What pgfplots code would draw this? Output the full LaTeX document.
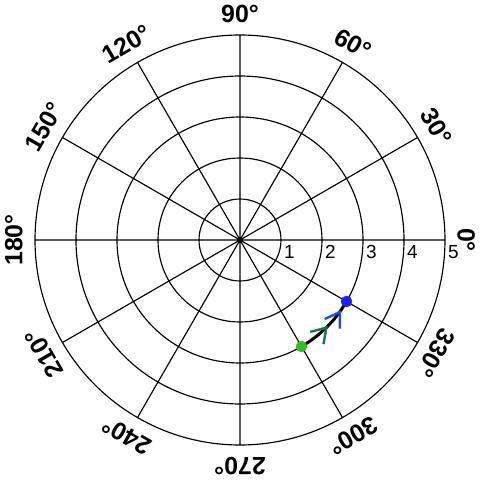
\documentclass[border=0pt]{standalone}
\usepackage{pgfplots}
\pgfplotsset{compat=1.18}
\usepgfplotslibrary{polar}
\usetikzlibrary{decorations.markings,arrows.meta}
\usepackage{fontspec}
\setmainfont{Liberation Sans}

\definecolor{ptgreen}{RGB}{50,190,40}
\definecolor{ptblue}{RGB}{30,30,250}
\definecolor{arrgreen}{RGB}{25,120,75}
\definecolor{arrblue}{RGB}{30,80,215}

\begin{document}
\begin{tikzpicture}
\begin{polaraxis}[
    width=410bp, height=410bp, scale only axis,
    ymin=0, ymax=5,
    xtick={0,30,...,330},
    ytick={1,2,3,4,5},
    xticklabels={}, yticklabels={},
    grid=major,
    major grid style={black, line width=1.15bp},
    axis line style={draw=none},
    tick style={draw=none},
    clip=false,
]
\coordinate (O) at (axis cs:0,0);
% path from the green point to the blue one
\addplot[black, line width=3bp, no markers,
    postaction={decorate},
    decoration={markings,
      mark=at position 0.52 with {\arrow{Straight Barb[length=14bp,width=18bp,line width=2.4bp,color=arrgreen]}},
      mark=at position 0.84 with {\arrow{Straight Barb[length=14bp,width=18bp,line width=2.4bp,color=arrblue]}}}]
  coordinates {(300,3) (305,3) (310,3) (315,3) (320,3) (325,3) (330,3)};
\addplot[only marks, mark=*, mark size=5.5bp, color=ptgreen] coordinates {(300,3)};
\addplot[only marks, mark=*, mark size=5.5bp, color=ptblue] coordinates {(330,3)};
% angle labels
\pgfplotsinvokeforeach{0,30,60,90,120,150,180,210,240,270,300,330}{
  \node[rotate=#1-90, font=\fontsize{25}{25}\bfseries\selectfont, inner sep=0pt]
    at (axis cs:#1,5.52) {#1°};
}
% radius labels
\pgfplotsinvokeforeach{1,2,3,4,5}{
  \node[anchor=north west, inner sep=0pt, xshift=3bp, yshift=-5.5bp,
    font=\fontsize{19}{19}\selectfont] at (axis cs:0,#1) {#1};
}
\end{polaraxis}
\pgfresetboundingbox
\path (O) ++(-240bp,-240bp) rectangle ++(480bp,480bp);
\end{tikzpicture}
\end{document}
